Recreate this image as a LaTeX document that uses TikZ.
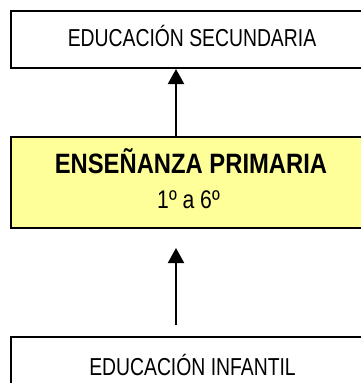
\documentclass[tikz,border=0pt]{standalone}
\usepackage{fontspec}
\setmainfont{Liberation Sans}[FakeStretch=0.79]
\newfontfamily\boldfam{Liberation Sans}[FakeStretch=0.85]
\newfontfamily\numfam{Liberation Sans}[FakeStretch=0.83]
\usetikzlibrary{arrows.meta}
\definecolor{boxyellow}{RGB}{255,255,153}
\begin{document}
\begin{tikzpicture}[x=1pt,y=-1pt,
  box/.style={draw=black, line width=2pt, inner sep=0pt, minimum width=362pt},
  lbl/.style={anchor=base, inner sep=0pt, font=\fontsize{24.5}{29}\selectfont},
  arr/.style={line width=2pt, -{Triangle[width=16pt,length=15pt]}}]
\useasboundingbox (0,0) rectangle (361,383);
\fill[white] (0,0) rectangle (361,383);
% boxes
\node[box, minimum height=57pt] (sec) at (192,39.5) {};
\node[box, fill=boxyellow, minimum height=91pt] (pri) at (192,182.5) {};
\node[box, minimum height=80pt] (inf) at (192,377) {};
% texts
\node[lbl] (tsec) at (192,46.5) {EDUCACIÓN SECUNDARIA};
\node[lbl, font=\boldfam\bfseries\fontsize{28}{33}\selectfont] (tpri) at (191,173.3) {ENSEÑANZA PRIMARIA};
\node[lbl, font=\numfam\fontsize{25.5}{30}\selectfont] (tcur) at (188.5,208) {1º a 6º};
\node[lbl] (tinf) at (192.5,375) {EDUCACIÓN INFANTIL};
% connectors
\coordinate (ax) at (176,0);
\coordinate (lowstart) at (176,325);
\coordinate (lowend) at (176,248);
\draw[arr] (pri.north -| ax) -- (sec.south -| ax);
\draw[arr] (lowstart) -- (lowend);
\end{tikzpicture}
\end{document}
